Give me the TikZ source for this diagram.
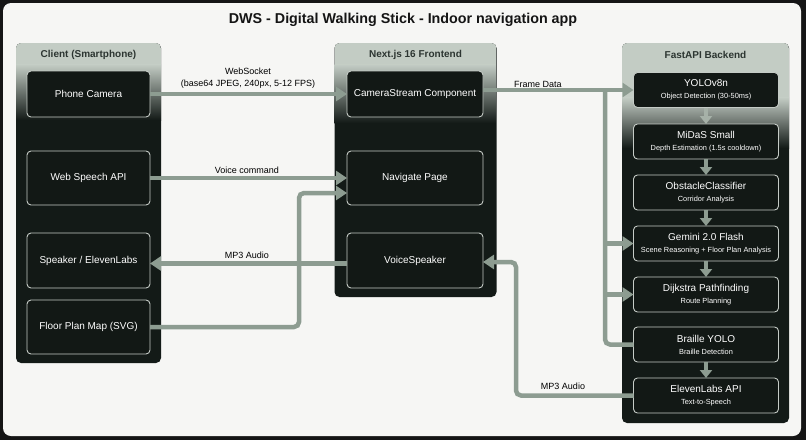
\documentclass[tikz,border=0pt]{standalone}
\usepackage{fontspec}
\setmainfont{Liberation Sans}
\usetikzlibrary{arrows.meta,calc}
\definecolor{bgc}{HTML}{F6F6F4}
\definecolor{framec}{HTML}{151515}
\definecolor{pnl}{HTML}{131A17}
\definecolor{hdr}{HTML}{C3CCC4}
\definecolor{hdrtext}{HTML}{2C3531}
\definecolor{nfill}{HTML}{121815}
\definecolor{nborder}{HTML}{C5CBC6}
\definecolor{conn}{HTML}{8D9C91}
\definecolor{connlight}{HTML}{A6B1A8}
\newcommand\bsub[1]{{\fontsize{7.4}{9}\selectfont #1}}
\begin{document}
\begin{tikzpicture}[x=1pt,y=-1pt,
  panel/.style={fill=pnl, rounded corners=5pt, inner sep=0pt, outer sep=0pt},
  phdr/.style={text=hdrtext, font=\bfseries\fontsize{10}{12}\selectfont},
  inode/.style={draw=nborder, line width=0.9pt, fill=nfill, rounded corners=4pt,
     text=white, align=center, inner sep=0pt, outer sep=0pt,
     font=\fontsize{10}{12}\selectfont},
  bnode/.style={inode, minimum width=145pt, minimum height=35pt},
  cnode/.style={inode, minimum width=123pt},
  fnode/.style={inode, minimum width=136pt},
  cline/.style={draw=conn, line width=4.5pt},
  carrow/.style={cline, -{Triangle[length=11pt,width=14pt]}},
  varrow/.style={draw=conn, line width=4pt, -{Triangle[length=8pt,width=12pt]}},
  lbl/.style={text=black, align=center, font=\fontsize{9}{12}\selectfont, inner sep=0pt}
]
\useasboundingbox (0,0) rectangle (806,440);
\fill[framec] (0,0) rectangle (806,440);
\fill[bgc, rounded corners=8pt] (3,3) rectangle (801,436);

\node[text=black!92, font=\bfseries\fontsize{14.3}{16}\selectfont] (title) at (403,20) {DWS - Digital Walking Stick - Indoor navigation app};

% panels
\node[panel, minimum width=145pt, minimum height=320pt] (client) at (88.5,203) {};
\node[panel, minimum width=162pt, minimum height=254pt] (front) at (415.5,170) {};
\node[panel, minimum width=167pt, minimum height=380pt] (back) at (705.5,233) {};
\begin{scope}
\clip[rounded corners=5pt] (client.north west) rectangle (client.south east);
\fill[hdr] (client.north west) rectangle ($(client.north east)+(0,22)$);
\shade[top color=hdr, bottom color=pnl] ($(client.north west)+(0,21.5)$) rectangle ($(client.north east)+(0,77)$);
\end{scope}
\begin{scope}
\clip[rounded corners=5pt] (front.north west) rectangle (front.south east);
\fill[hdr] (front.north west) rectangle ($(front.north east)+(0,22)$);
\shade[top color=hdr, bottom color=pnl] ($(front.north west)+(0,21.5)$) rectangle ($(front.north east)+(0,80)$);
\end{scope}
\begin{scope}
\clip[rounded corners=5pt] (back.north west) rectangle (back.south east);
\fill[hdr] (back.north west) rectangle ($(back.north east)+(0,55)$);
\shade[top color=hdr, bottom color=pnl] ($(back.north west)+(0,54.5)$) rectangle ($(back.north east)+(0,105)$);
\end{scope}
\node[phdr] (clienth) at (88.5,55) {Client (Smartphone)};
\node[phdr] (fronth) at (415.5,55) {Next.js 16 Frontend};
\node[phdr] (backh) at (705.5,55) {FastAPI Backend};

% client nodes
\node[cnode, minimum height=46pt] (phone) at (88.5,94) {Phone Camera};
\node[cnode, minimum height=54pt] (speech) at (88.5,178) {Web Speech API};
\node[cnode, minimum height=55pt] (speaker) at (88.5,260.5) {Speaker / ElevenLabs};
\node[cnode, minimum height=54pt] (floor) at (88.5,327) {Floor Plan Map (SVG)};

% frontend nodes
\node[fnode, minimum height=46pt] (cam) at (415,94) {CameraStream Component};
\node[fnode, minimum height=54pt] (nav) at (415,178) {Navigate Page};
\node[fnode, minimum height=55pt] (voice) at (415,260.5) {VoiceSpeaker};

% backend nodes
\node[bnode] (yolo) at (706,90) {YOLOv8n\\\bsub{Object Detection (30-50ms)}};
\node[bnode] (midas) at (706,141.5) {MiDaS Small\\\bsub{Depth Estimation (1.5s cooldown)}};
\node[bnode] (obst) at (706,192.5) {ObstacleClassifier\\\bsub{Corridor Analysis}};
\node[bnode] (gem) at (706,243.5) {Gemini 2.0 Flash\\\bsub{Scene Reasoning + Floor Plan Analysis}};
\node[bnode] (dij) at (706,294.5) {Dijkstra Pathfinding\\\bsub{Route Planning}};
\node[bnode] (brl) at (706,344.5) {Braille YOLO\\\bsub{Braille Detection}};
\node[bnode] (eleven) at (706,395.5) {ElevenLabs API\\\bsub{Text-to-Speech}};

% backend chain
\draw[varrow, draw=connlight] (yolo.south) -- (midas.north);
\draw[varrow] (midas.south) -- (obst.north);
\draw[varrow] (obst.south) -- (gem.north);
\draw[varrow] (gem.south) -- (dij.north);
\draw[varrow] (brl.south) -- (eleven.north);

% connectors
\draw[carrow] (phone.east) -- (cam.west);
\node[lbl] (lws) at (248,78) {WebSocket\\(base64 JPEG, 240px, 5-12 FPS)};

\draw[carrow] (cam.east |- yolo.west) -- (yolo.west);
\node[lbl] (lfd) at (538,84) {Frame Data};
\coordinate (fj) at (605,90);
\draw[cline, rounded corners=5pt] (fj) -- (fj |- brl.west) -- (brl.west);
\draw[carrow] (fj |- gem.west) -- (gem.west);
\draw[carrow] (fj |- dij.west) -- (dij.west);

\draw[carrow] (speech.east) -- (nav.west);
\node[lbl] (lvc) at (247,170) {Voice command};

\coordinate (fp) at (299,193);
\draw[carrow, rounded corners=5pt] (floor.east) -| (fp) -- (fp -| nav.west);

\draw[carrow] ([yshift=-3pt]voice.west) -- ([yshift=-3pt]speaker.east);
\node[lbl] (lmp1) at (247,255) {MP3 Audio};

\coordinate (ev) at (516,262);
\draw[carrow, rounded corners=5pt] (eleven.west) -| (ev) -- (ev -| voice.east);
\node[lbl] (lmp2) at (563,386) {MP3 Audio};
\end{tikzpicture}
\end{document}
